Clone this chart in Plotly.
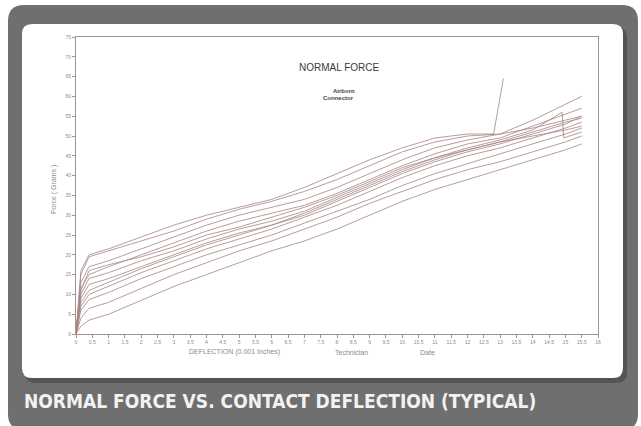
import plotly.graph_objects as go

# Deflection samples (0.001 in) shared by most test runs
DEFLECTION = [0, 0.15, 0.4, 1, 2, 3, 4, 5, 6, 7, 8, 9, 10, 11, 12, 13, 14, 15, 15.5]

# Normal force (grams) for each contact sample
RUN_01 = [0, 2.0, 3.5, 5.0, 8.5, 12.0, 15.0, 18.0, 21.0, 23.5, 26.5, 30.0, 33.5, 36.5, 39.0, 41.5, 44.0, 46.5, 48.0]
RUN_02 = [0, 4.0, 6.5, 8.0, 11.5, 15.0, 18.0, 21.0, 23.5, 26.5, 29.5, 33.0, 36.0, 39.0, 41.5, 43.5, 46.0, 48.5, 50.0]
RUN_03 = [0, 6.0, 8.7, 10.5, 14.0, 17.0, 20.0, 22.5, 25.0, 28.0, 31.0, 34.0, 37.5, 40.5, 43.0, 45.5, 48.0, 50.5, 52.0]
RUN_04 = [0, 7.0, 10.0, 12.0, 15.5, 18.5, 21.5, 24.0, 26.5, 29.5, 32.5, 36.0, 39.5, 42.5, 45.0, 47.0, 49.5, 52.0, 53.5]
RUN_05 = [0, 8.0, 11.0, 13.0, 16.5, 19.5, 22.5, 25.0, 27.5, 30.5, 34.0, 37.5, 41.0, 44.0, 46.5, 48.5, 51.0, 53.5, 54.5]
RUN_06 = [0, 9.0, 12.5, 14.0, 17.0, 20.0, 23.0, 25.5, 27.5, 30.0, 33.5, 37.0, 40.5, 43.5, 46.0, 48.0, 50.5, 53.0, 55.0]
RUN_07 = [0, 11.0, 16.0, 17.5, 19.5, 22.0, 25.0, 27.0, 29.5, 32.0, 35.0, 38.5, 42.0, 44.5, 46.5, 48.5, 50.0, 51.5, 52.5]
RUN_08 = [0, 11.5, 15.0, 17.0, 20.0, 23.0, 26.0, 28.5, 30.5, 32.5, 35.5, 39.0, 42.5, 45.5, 48.0, 49.5, 52.5, 55.5, 57.0]
RUN_09 = [0, 13.0, 17.0, 18.5, 21.5, 24.5, 27.5, 30.0, 32.0, 34.0, 37.0, 40.5, 44.0, 47.0, 49.0, 50.5, 54.0, 58.0, 60.0]
RUN_10 = [0, 15.0, 19.5, 21.0, 23.5, 26.0, 29.0, 31.5, 33.5, 36.0, 39.0, 42.5, 46.0, 48.5, 50.0, 50.5, 52.0, 54.0, 55.0]

# Sample that relaxes back near full travel
HOOK_DEFLECTION = [0, 0.15, 0.4, 1, 2, 3, 4, 5, 6, 7, 8, 9, 10, 11, 12, 13, 14, 14.9, 14.95, 15.5]
HOOK_FORCE = [0, 10.0, 14.0, 15.5, 18.5, 21.0, 24.0, 26.5, 28.5, 31.0, 34.5, 38.0, 41.5, 44.5, 47.0, 49.0, 51.5, 56.0, 49.5, 51.0]

# Sample that jumps sharply near 13 mils
SPIKE_DEFLECTION = [0, 0.15, 0.4, 1, 2, 3, 4, 5, 6, 7, 8, 9, 10, 11, 12, 12.8, 13.1]
SPIKE_FORCE = [0, 16.0, 20.0, 21.5, 24.5, 27.5, 30.0, 32.0, 34.0, 37.0, 40.5, 44.0, 47.0, 49.5, 50.5, 50.5, 64.5]

X_TICKS = [i * 0.5 for i in range(33)]
X_TICK_TEXT = ["0", "0.5", "1", "1.5", "2", "2.5", "3", "3.5", "4", "4.5", "5", "5.5",
               "6", "6.5", "7", "7.5", "8", "8.5", "9", "9.5", "10", "10.5", "11", "11.5",
               "12", "12.5", "13", "13.5", "14", "14.5", "15", "15.5", "16"]
Y_TICKS = list(range(0, 80, 5))

W_PX, H_PX = 641, 426
L, R, T, B = 76, 598, 37, 334

def fx(p):
    return (p - L) / (R - L)

def fy(p):
    return (B - p) / (B - T)

def rounded(x0, y0, x1, y1, r):
    pts = [
        ("M", [(x0 + r, y0)]), ("L", [(x1 - r, y0)]), ("Q", [(x1, y0), (x1, y0 + r)]),
        ("L", [(x1, y1 - r)]), ("Q", [(x1, y1), (x1 - r, y1)]), ("L", [(x0 + r, y1)]),
        ("Q", [(x0, y1), (x0, y1 - r)]), ("L", [(x0, y0 + r)]), ("Q", [(x0, y0), (x0 + r, y0)]),
    ]
    out = []
    for cmd, coords in pts:
        out.append(cmd + " ".join(f"{fx(a):.5f},{fy(b):.5f}" for a, b in coords))
    return " ".join(out) + " Z"

LINE = "#a98585"
fig = go.Figure()
for ys in [RUN_01, RUN_02, RUN_03, RUN_04, RUN_05, RUN_06, RUN_07, RUN_08, RUN_09, RUN_10]:
    fig.add_trace(go.Scatter(x=DEFLECTION, y=ys, mode="lines",
                             line=dict(color=LINE, width=1), opacity=0.8,
                             hoverinfo="skip", showlegend=False))
fig.add_trace(go.Scatter(x=HOOK_DEFLECTION, y=HOOK_FORCE, mode="lines",
                         line=dict(color=LINE, width=1), opacity=0.8,
                         hoverinfo="skip", showlegend=False))
fig.add_trace(go.Scatter(x=SPIKE_DEFLECTION, y=SPIKE_FORCE, mode="lines",
                         line=dict(color=LINE, width=1), opacity=0.8,
                         hoverinfo="skip", showlegend=False))

axis_color = "#a89090"
tick_font = dict(family="Liberation Sans, Arial, sans-serif", size=5, color="#8c8c8c")

fig.update_xaxes(range=[0, 16], tickvals=X_TICKS, ticktext=X_TICK_TEXT,
                 showline=True, mirror=True, linecolor=axis_color, linewidth=1,
                 ticks="outside", ticklen=3, tickcolor=axis_color, tickfont=tick_font,
                 showgrid=False, zeroline=False)
fig.update_yaxes(range=[0, 75], tickvals=Y_TICKS,
                 showline=True, mirror=True, linecolor=axis_color, linewidth=1,
                 ticks="outside", ticklen=3, tickcolor=axis_color, tickfont=tick_font,
                 showgrid=False, zeroline=False)

shapes = [
    dict(type="path", xref="paper", yref="paper", layer="below",
         path=rounded(8, 5, 638, 430, 16), fillcolor="#6f6f6f", line=dict(width=0)),
    dict(type="path", xref="paper", yref="paper", layer="below",
         path=rounded(25, 27, 627, 383, 11), fillcolor="#4e4e4e", line=dict(width=0), opacity=0.8),
    dict(type="path", xref="paper", yref="paper", layer="below",
         path=rounded(22, 24, 623, 378, 10), fillcolor="#ffffff", line=dict(width=0)),
]

small = dict(family="Liberation Sans, Arial, sans-serif", size=7, color="#8a8a8a")

def note(text, x, y, font, xanchor="center", **kw):
    return dict(text=text, x=fx(x), y=fy(y), xref="paper", yref="paper",
                xanchor=xanchor, yanchor="middle", showarrow=False, font=font, **kw)

annotations = [
    note("NORMAL FORCE", 339, 68,
         dict(family="Liberation Sans Narrow, Liberation Sans, Arial, sans-serif", size=10, color="#3a3a3a")),
    note("<b>Airborn</b>", 357, 91,
         dict(family="Liberation Sans, Arial, sans-serif", size=6, color="#444444"), xanchor="right"),
    note("<b>Connector</b>", 356, 98,
         dict(family="Liberation Sans, Arial, sans-serif", size=6, color="#444444"), xanchor="right"),
    note("Force ( Grams )", 54, 190, small, textangle=-90),
    note("DEFLECTION (0.001 Inches)", 187, 352, small, xanchor="left"),
    note("Technician", 333, 352, small, xanchor="left"),
    note("Date", 418, 352, small, xanchor="left"),
    note("<b>NORMAL FORCE VS. CONTACT DEFLECTION (TYPICAL)</b>", 22, 401,
         dict(family="Liberation Sans Narrow, DejaVu Sans Condensed, Arial Narrow, sans-serif",
              size=19, color="#f2f2f2"), xanchor="left"),
]

fig.update_layout(
    width=W_PX, height=H_PX, autosize=False,
    margin=dict(l=L, r=W_PX - R, t=T, b=H_PX - B, pad=0),
    paper_bgcolor="#ffffff", plot_bgcolor="rgba(0,0,0,0)",
    shapes=shapes, annotations=annotations, showlegend=False,
)

fig.write_html("out.html")
